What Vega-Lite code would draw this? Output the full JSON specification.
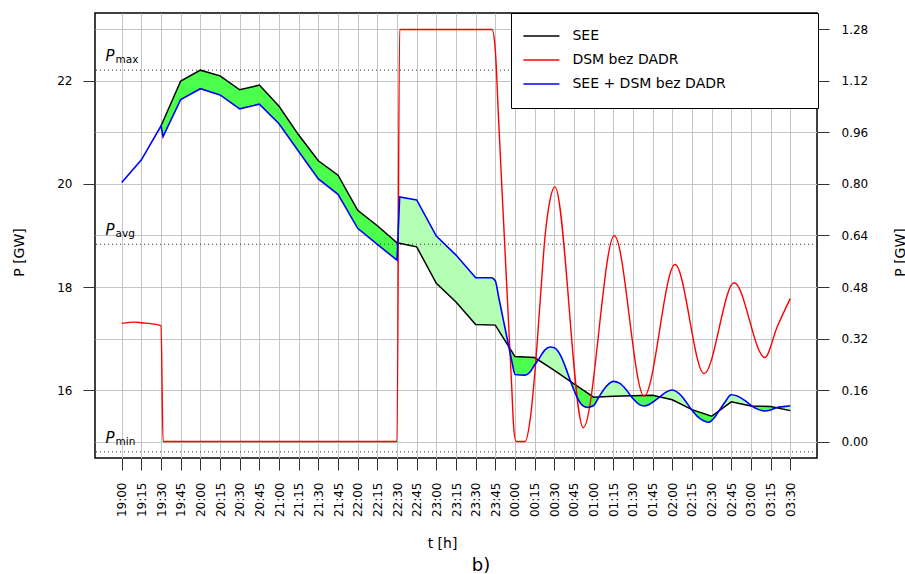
{
  "$schema": "https://vega.github.io/schema/vega-lite/v6.json",
  "width": 722,
  "height": 445,
  "autosize": {"type": "none"},
  "padding": {"left": 95, "top": 13, "right": 88, "bottom": 116},
  "background": "white",
  "config": {
    "font": "DejaVu Sans",
    "view": {"stroke": "black", "strokeWidth": 1.5},
    "axis": {
      "labelFont": "DejaVu Sans", "titleFont": "DejaVu Sans",
      "labelFontSize": 12, "titleFontSize": 14, "titleFontWeight": "normal",
      "labelColor": "black", "titleColor": "black",
      "tickColor": "#333333", "tickSize": 12, "domain": false,
      "gridColor": "#c4c4c4", "gridWidth": 1, "labelOverlap": false
    },
    "axisX": {"labelOverlap": false, "labelSeparation": 0}
  },
  "title": {"text": "b)", "orient": "bottom", "anchor": "middle", "fontSize": 18, "fontWeight": "normal", "font": "DejaVu Sans", "color": "black", "offset": 7, "dx": 25},
  "datasets": {
    "see": [
      {"t": 30, "v": 21.13}, {"t": 45, "v": 22.00}, {"t": 60, "v": 22.21}, {"t": 75, "v": 22.10},
      {"t": 90, "v": 21.83}, {"t": 105, "v": 21.92}, {"t": 120, "v": 21.51}, {"t": 135, "v": 20.95},
      {"t": 150, "v": 20.45}, {"t": 165, "v": 20.17}, {"t": 180, "v": 19.49}, {"t": 195, "v": 19.19},
      {"t": 210, "v": 18.86}, {"t": 225, "v": 18.78}, {"t": 240, "v": 18.07}, {"t": 255, "v": 17.71},
      {"t": 270, "v": 17.27}, {"t": 285, "v": 17.26}, {"t": 300, "v": 16.65}, {"t": 315, "v": 16.63},
      {"t": 330, "v": 16.38}, {"t": 345, "v": 16.12}, {"t": 360, "v": 15.86}, {"t": 375, "v": 15.88},
      {"t": 390, "v": 15.89}, {"t": 405, "v": 15.90}, {"t": 420, "v": 15.81}, {"t": 435, "v": 15.62},
      {"t": 450, "v": 15.49}, {"t": 465, "v": 15.77}, {"t": 480, "v": 15.69}, {"t": 495, "v": 15.68},
      {"t": 510, "v": 15.60}
    ],
    "blue": [
      {"t": 0, "v": 20.03}, {"t": 15, "v": 20.47}, {"t": 30, "v": 21.13}, {"t": 31.5, "v": 20.92},
      {"t": 45, "v": 21.64}, {"t": 60, "v": 21.85}, {"t": 75, "v": 21.73}, {"t": 90, "v": 21.46},
      {"t": 105, "v": 21.55}, {"t": 120, "v": 21.17}, {"t": 135, "v": 20.63}, {"t": 150, "v": 20.10},
      {"t": 165, "v": 19.80}, {"t": 180, "v": 19.14}, {"t": 195, "v": 18.83}, {"t": 210, "v": 18.52},
      {"t": 212, "v": 19.75}, {"t": 225, "v": 19.69}, {"t": 240, "v": 18.99}, {"t": 255, "v": 18.62},
      {"t": 270, "v": 18.18}, {"t": 282.5, "v": 18.18},
      {"t": 285, "v": 18.12}, {"t": 287.5, "v": 17.81}, {"t": 290, "v": 17.50}, {"t": 292.5, "v": 17.19},
      {"t": 295.3, "v": 16.84}, {"t": 297.5, "v": 16.57}, {"t": 299, "v": 16.385}, {"t": 300, "v": 16.30},
      {"t": 307.7, "v": 16.29}, {"t": 311.5, "v": 16.35}, {"t": 315, "v": 16.49}, {"t": 317.8, "v": 16.585},
      {"t": 319.1, "v": 16.64}, {"t": 322.9, "v": 16.78}, {"t": 326.7, "v": 16.835}, {"t": 330, "v": 16.82},
      {"t": 335, "v": 16.66}, {"t": 340, "v": 16.34}, {"t": 342.5, "v": 16.163}, {"t": 345, "v": 15.995},
      {"t": 350, "v": 15.745}, {"t": 352.1, "v": 15.69}, {"t": 355, "v": 15.662}, {"t": 360, "v": 15.70},
      {"t": 364, "v": 15.865}, {"t": 370, "v": 16.08}, {"t": 375, "v": 16.167}, {"t": 380, "v": 16.13},
      {"t": 385, "v": 16.0}, {"t": 388.3, "v": 15.889}, {"t": 390, "v": 15.834}, {"t": 395, "v": 15.717},
      {"t": 398.5, "v": 15.69}, {"t": 402, "v": 15.713}, {"t": 405, "v": 15.763}, {"t": 410.5, "v": 15.867},
      {"t": 415, "v": 15.955}, {"t": 420, "v": 16.0}, {"t": 425, "v": 15.933}, {"t": 430, "v": 15.788},
      {"t": 434.5, "v": 15.626}, {"t": 440, "v": 15.468}, {"t": 444.3, "v": 15.40}, {"t": 448, "v": 15.375},
      {"t": 452.5, "v": 15.478}, {"t": 455.6, "v": 15.595}, {"t": 460, "v": 15.757}, {"t": 465, "v": 15.907},
      {"t": 470, "v": 15.878}, {"t": 475, "v": 15.802}, {"t": 480.6, "v": 15.69}, {"t": 485, "v": 15.629},
      {"t": 490.6, "v": 15.594}, {"t": 495, "v": 15.612}, {"t": 499.4, "v": 15.657}, {"t": 505, "v": 15.677},
      {"t": 510, "v": 15.694}
    ],
    "dsm": [
      {"t": 0, "r": 0.367}, {"t": 10, "r": 0.371}, {"t": 15, "r": 0.369}, {"t": 30, "r": 0.36},
      {"t": 31.5, "r": 0}, {"t": 210, "r": 0}, {"t": 212, "r": 1.28}, {"t": 282.5, "r": 1.28},
      {"t": 285, "r": 1.215}, {"t": 287.5, "r": 1.0}, {"t": 290, "r": 0.79}, {"t": 292.5, "r": 0.584},
      {"t": 295, "r": 0.377}, {"t": 297.5, "r": 0.17}, {"t": 299, "r": 0.045}, {"t": 300.8, "r": 0},
      {"t": 307.7, "r": 0}, {"t": 311.5, "r": 0.066}, {"t": 315.3, "r": 0.22}, {"t": 319.1, "r": 0.43},
      {"t": 322.9, "r": 0.636}, {"t": 326.7, "r": 0.75}, {"t": 330.5, "r": 0.791}, {"t": 352.1, "r": 0.043},
      {"t": 375.8, "r": 0.639}, {"t": 398.5, "r": 0.141}, {"t": 422.1, "r": 0.55}, {"t": 444.3, "r": 0.211},
      {"t": 467.2, "r": 0.493}, {"t": 490.6, "r": 0.261}, {"t": 500, "r": 0.356}, {"t": 510, "r": 0.444}
    ],
    "fill": [
      {"seg": 1, "kind": "lo", "t": 30, "see": 21.13, "blue": 21.13},
      {"seg": 1, "kind": "lo", "t": 31.5, "see": 21.217, "blue": 20.92},
      {"seg": 1, "kind": "lo", "t": 45, "see": 22.00, "blue": 21.64},
      {"seg": 1, "kind": "lo", "t": 60, "see": 22.21, "blue": 21.85},
      {"seg": 1, "kind": "lo", "t": 75, "see": 22.10, "blue": 21.73},
      {"seg": 1, "kind": "lo", "t": 90, "see": 21.83, "blue": 21.46},
      {"seg": 1, "kind": "lo", "t": 105, "see": 21.92, "blue": 21.55},
      {"seg": 1, "kind": "lo", "t": 120, "see": 21.51, "blue": 21.17},
      {"seg": 1, "kind": "lo", "t": 135, "see": 20.95, "blue": 20.63},
      {"seg": 1, "kind": "lo", "t": 150, "see": 20.45, "blue": 20.10},
      {"seg": 1, "kind": "lo", "t": 165, "see": 20.17, "blue": 19.80},
      {"seg": 1, "kind": "lo", "t": 180, "see": 19.49, "blue": 19.14},
      {"seg": 1, "kind": "lo", "t": 195, "see": 19.19, "blue": 18.83},
      {"seg": 1, "kind": "lo", "t": 210, "see": 18.86, "blue": 18.52},
      {"seg": 1, "kind": "lo", "t": 210.5, "see": 18.857, "blue": 18.857},
      {"seg": 2, "kind": "hi", "t": 210.5, "see": 18.857, "blue": 18.857},
      {"seg": 2, "kind": "hi", "t": 212, "see": 18.849, "blue": 19.75},
      {"seg": 2, "kind": "hi", "t": 225, "see": 18.78, "blue": 19.69},
      {"seg": 2, "kind": "hi", "t": 240, "see": 18.07, "blue": 18.99},
      {"seg": 2, "kind": "hi", "t": 255, "see": 17.71, "blue": 18.62},
      {"seg": 2, "kind": "hi", "t": 270, "see": 17.27, "blue": 18.18},
      {"seg": 2, "kind": "hi", "t": 282.5, "see": 17.262, "blue": 18.18},
      {"seg": 2, "kind": "hi", "t": 285, "see": 17.26, "blue": 18.12},
      {"seg": 2, "kind": "hi", "t": 287.5, "see": 17.158, "blue": 17.81},
      {"seg": 2, "kind": "hi", "t": 290, "see": 17.057, "blue": 17.50},
      {"seg": 2, "kind": "hi", "t": 292.5, "see": 16.955, "blue": 17.19},
      {"seg": 2, "kind": "hi", "t": 295.3, "see": 16.841, "blue": 16.841},
      {"seg": 3, "kind": "lo", "t": 295.3, "see": 16.841, "blue": 16.841},
      {"seg": 3, "kind": "lo", "t": 297.5, "see": 16.752, "blue": 16.57},
      {"seg": 3, "kind": "lo", "t": 299, "see": 16.691, "blue": 16.385},
      {"seg": 3, "kind": "lo", "t": 300, "see": 16.65, "blue": 16.30},
      {"seg": 3, "kind": "lo", "t": 307.7, "see": 16.64, "blue": 16.29},
      {"seg": 3, "kind": "lo", "t": 311.5, "see": 16.636, "blue": 16.35},
      {"seg": 3, "kind": "lo", "t": 315, "see": 16.63, "blue": 16.49},
      {"seg": 3, "kind": "lo", "t": 317.8, "see": 16.585, "blue": 16.585},
      {"seg": 4, "kind": "hi", "t": 317.8, "see": 16.585, "blue": 16.585},
      {"seg": 4, "kind": "hi", "t": 319.1, "see": 16.562, "blue": 16.64},
      {"seg": 4, "kind": "hi", "t": 322.9, "see": 16.498, "blue": 16.78},
      {"seg": 4, "kind": "hi", "t": 326.7, "see": 16.435, "blue": 16.835},
      {"seg": 4, "kind": "hi", "t": 330, "see": 16.38, "blue": 16.82},
      {"seg": 4, "kind": "hi", "t": 335, "see": 16.293, "blue": 16.66},
      {"seg": 4, "kind": "hi", "t": 340, "see": 16.207, "blue": 16.34},
      {"seg": 4, "kind": "hi", "t": 342.5, "see": 16.163, "blue": 16.163},
      {"seg": 5, "kind": "lo", "t": 342.5, "see": 16.163, "blue": 16.163},
      {"seg": 5, "kind": "lo", "t": 345, "see": 16.12, "blue": 15.995},
      {"seg": 5, "kind": "lo", "t": 350, "see": 16.033, "blue": 15.745},
      {"seg": 5, "kind": "lo", "t": 352.1, "see": 15.997, "blue": 15.69},
      {"seg": 5, "kind": "lo", "t": 355, "see": 15.947, "blue": 15.662},
      {"seg": 5, "kind": "lo", "t": 360, "see": 15.86, "blue": 15.70},
      {"seg": 5, "kind": "lo", "t": 364, "see": 15.865, "blue": 15.865},
      {"seg": 6, "kind": "hi", "t": 364, "see": 15.865, "blue": 15.865},
      {"seg": 6, "kind": "hi", "t": 370, "see": 15.873, "blue": 16.08},
      {"seg": 6, "kind": "hi", "t": 375, "see": 15.88, "blue": 16.167},
      {"seg": 6, "kind": "hi", "t": 380, "see": 15.883, "blue": 16.13},
      {"seg": 6, "kind": "hi", "t": 385, "see": 15.886, "blue": 16.0},
      {"seg": 6, "kind": "hi", "t": 388.3, "see": 15.889, "blue": 15.889},
      {"seg": 7, "kind": "lo", "t": 388.3, "see": 15.889, "blue": 15.889},
      {"seg": 7, "kind": "lo", "t": 390, "see": 15.89, "blue": 15.834},
      {"seg": 7, "kind": "lo", "t": 395, "see": 15.893, "blue": 15.717},
      {"seg": 7, "kind": "lo", "t": 398.5, "see": 15.896, "blue": 15.69},
      {"seg": 7, "kind": "lo", "t": 402, "see": 15.898, "blue": 15.713},
      {"seg": 7, "kind": "lo", "t": 405, "see": 15.90, "blue": 15.763},
      {"seg": 7, "kind": "lo", "t": 410.5, "see": 15.867, "blue": 15.867},
      {"seg": 8, "kind": "hi", "t": 410.5, "see": 15.867, "blue": 15.867},
      {"seg": 8, "kind": "hi", "t": 415, "see": 15.84, "blue": 15.955},
      {"seg": 8, "kind": "hi", "t": 420, "see": 15.81, "blue": 16.0},
      {"seg": 8, "kind": "hi", "t": 425, "see": 15.747, "blue": 15.933},
      {"seg": 8, "kind": "hi", "t": 430, "see": 15.683, "blue": 15.788},
      {"seg": 8, "kind": "hi", "t": 434.5, "see": 15.626, "blue": 15.626},
      {"seg": 9, "kind": "lo", "t": 434.5, "see": 15.626, "blue": 15.626},
      {"seg": 9, "kind": "lo", "t": 440, "see": 15.577, "blue": 15.468},
      {"seg": 9, "kind": "lo", "t": 444.3, "see": 15.539, "blue": 15.40},
      {"seg": 9, "kind": "lo", "t": 448, "see": 15.507, "blue": 15.375},
      {"seg": 9, "kind": "lo", "t": 450, "see": 15.49, "blue": 15.392},
      {"seg": 9, "kind": "lo", "t": 452.5, "see": 15.537, "blue": 15.478},
      {"seg": 9, "kind": "lo", "t": 455.6, "see": 15.595, "blue": 15.595},
      {"seg": 10, "kind": "hi", "t": 455.6, "see": 15.595, "blue": 15.595},
      {"seg": 10, "kind": "hi", "t": 460, "see": 15.677, "blue": 15.757},
      {"seg": 10, "kind": "hi", "t": 465, "see": 15.77, "blue": 15.907},
      {"seg": 10, "kind": "hi", "t": 470, "see": 15.743, "blue": 15.878},
      {"seg": 10, "kind": "hi", "t": 475, "see": 15.717, "blue": 15.802},
      {"seg": 10, "kind": "hi", "t": 480, "see": 15.69, "blue": 15.70},
      {"seg": 10, "kind": "hi", "t": 480.6, "see": 15.69, "blue": 15.69},
      {"seg": 11, "kind": "lo", "t": 480.6, "see": 15.69, "blue": 15.69},
      {"seg": 11, "kind": "lo", "t": 485, "see": 15.687, "blue": 15.629},
      {"seg": 11, "kind": "lo", "t": 490.6, "see": 15.683, "blue": 15.594},
      {"seg": 11, "kind": "lo", "t": 495, "see": 15.68, "blue": 15.612},
      {"seg": 11, "kind": "lo", "t": 499.4, "see": 15.657, "blue": 15.657},
      {"seg": 12, "kind": "hi", "t": 499.4, "see": 15.657, "blue": 15.657},
      {"seg": 12, "kind": "hi", "t": 505, "see": 15.627, "blue": 15.677},
      {"seg": 12, "kind": "hi", "t": 510, "see": 15.60, "blue": 15.694}
    ],
    "ref": [
      {"name": "max", "v": 22.21},
      {"name": "avg", "v": 18.83},
      {"name": "min", "v": 14.80}
    ]
  },
  "layer": [
    {
      "layer": [
        {
          "data": {"name": "fill"},
          "transform": [{"filter": "datum.t <= 282.5"}],
          "mark": {"type": "area", "interpolate": "linear", "opacity": 1},
          "encoding": {
            "x": {"field": "t", "type": "quantitative", "scale": {"domain": [-20.4, 530.4], "nice": false, "zero": false},
              "axis": {"values": [0,15,30,45,60,75,90,105,120,135,150,165,180,195,210,225,240,255,270,285,300,315,330,345,360,375,390,405,420,435,450,465,480,495,510], "labelExpr": "timeFormat(datetime(2020, 0, 1, 19, datum.value), '%H:%M')", "labelAngle": 270, "labelPadding": 12, "tickSize": 12, "grid": true, "labelOverlap": false, "labelBound": false, "labelFlush": false, "labelSeparation": 0, "title": "t [h]", "titleX": 347, "titleY": 89, "titleBaseline": "alphabetic", "titleAlign": "center"}},
            "y": {"field": "see", "type": "quantitative", "scale": {"domain": [14.68, 23.32], "nice": false, "zero": false},
              "axis": {
                "orient": "left", "values": [16, 18, 20, 22], "grid": false, "labelPadding": 11, "tickSize": 12,
                "title": "P [GW]", "titleAngle": 270, "titleX": -71.5, "titleY": 239, "titleBaseline": "alphabetic", "titleAlign": "center"
              }},
            "y2": {"field": "blue"},
            "detail": {"field": "seg"},
            "fill": {"field": "kind", "type": "nominal", "scale": {"domain": ["lo", "hi"], "range": ["#4dff4d", "#b3ffb3"]}, "legend": null}
          }
        },
        {
          "data": {"name": "fill"},
          "transform": [{"filter": "datum.t >= 282.5"}],
          "mark": {"type": "area", "interpolate": "monotone", "opacity": 1},
          "encoding": {
            "x": {"field": "t", "type": "quantitative", "scale": {"domain": [-20.4, 530.4], "nice": false, "zero": false},
              "axis": {"values": [0,15,30,45,60,75,90,105,120,135,150,165,180,195,210,225,240,255,270,285,300,315,330,345,360,375,390,405,420,435,450,465,480,495,510], "labelExpr": "timeFormat(datetime(2020, 0, 1, 19, datum.value), '%H:%M')", "labelAngle": 270, "labelPadding": 12, "tickSize": 12, "grid": true, "labelOverlap": false, "labelBound": false, "labelFlush": false, "labelSeparation": 0, "title": "t [h]", "titleX": 347, "titleY": 89, "titleBaseline": "alphabetic", "titleAlign": "center"}},
            "y": {"field": "see", "type": "quantitative", "scale": {"domain": [14.68, 23.32], "nice": false, "zero": false}},
            "y2": {"field": "blue"},
            "detail": {"field": "seg"},
            "fill": {"field": "kind", "type": "nominal", "scale": {"domain": ["lo", "hi"], "range": ["#4dff4d", "#b3ffb3"]}, "legend": null}
          }
        },
        {
          "data": {"name": "ref"},
          "mark": {"type": "rule", "color": "#333333", "strokeWidth": 1, "strokeDash": [1, 3]},
          "encoding": {
            "y": {"field": "v", "type": "quantitative", "scale": {"domain": [14.68, 23.32], "nice": false, "zero": false}}
          }
        },
        {
          "data": {"name": "ref"},
          "mark": {"type": "text", "text": "P", "fontStyle": "italic", "fontSize": 15, "align": "left", "baseline": "alphabetic", "dy": -9, "color": "black", "font": "DejaVu Sans"},
          "encoding": {
            "x": {"datum": -12.4, "type": "quantitative", "scale": {"domain": [-20.4, 530.4], "nice": false, "zero": false},
              "axis": {"values": [0,15,30,45,60,75,90,105,120,135,150,165,180,195,210,225,240,255,270,285,300,315,330,345,360,375,390,405,420,435,450,465,480,495,510], "labelExpr": "timeFormat(datetime(2020, 0, 1, 19, datum.value), '%H:%M')", "labelAngle": 270, "labelPadding": 12, "tickSize": 12, "grid": true, "labelOverlap": false, "labelBound": false, "labelFlush": false, "labelSeparation": 0, "title": "t [h]", "titleX": 347, "titleY": 89, "titleBaseline": "alphabetic", "titleAlign": "center"}},
            "y": {"field": "v", "type": "quantitative", "scale": {"domain": [14.68, 23.32], "nice": false, "zero": false}}
          }
        },
        {
          "data": {"name": "ref"},
          "mark": {"type": "text", "fontSize": 10.5, "align": "left", "baseline": "alphabetic", "dy": -7, "color": "black", "font": "DejaVu Sans"},
          "encoding": {
            "x": {"datum": -4.7, "type": "quantitative", "scale": {"domain": [-20.4, 530.4], "nice": false, "zero": false},
              "axis": {"values": [0,15,30,45,60,75,90,105,120,135,150,165,180,195,210,225,240,255,270,285,300,315,330,345,360,375,390,405,420,435,450,465,480,495,510], "labelExpr": "timeFormat(datetime(2020, 0, 1, 19, datum.value), '%H:%M')", "labelAngle": 270, "labelPadding": 12, "tickSize": 12, "grid": true, "labelOverlap": false, "labelBound": false, "labelFlush": false, "labelSeparation": 0, "title": "t [h]", "titleX": 347, "titleY": 89, "titleBaseline": "alphabetic", "titleAlign": "center"}},
            "y": {"field": "v", "type": "quantitative", "scale": {"domain": [14.68, 23.32], "nice": false, "zero": false}},
            "text": {"field": "name"}
          }
        },
        {
          "data": {"name": "see"},
          "mark": {"type": "line", "interpolate": "linear", "strokeWidth": 1.5},
          "encoding": {
            "x": {"field": "t", "type": "quantitative", "scale": {"domain": [-20.4, 530.4], "nice": false, "zero": false},
              "axis": {"values": [0,15,30,45,60,75,90,105,120,135,150,165,180,195,210,225,240,255,270,285,300,315,330,345,360,375,390,405,420,435,450,465,480,495,510], "labelExpr": "timeFormat(datetime(2020, 0, 1, 19, datum.value), '%H:%M')", "labelAngle": 270, "labelPadding": 12, "tickSize": 12, "grid": true, "labelOverlap": false, "labelBound": false, "labelFlush": false, "labelSeparation": 0, "title": "t [h]", "titleX": 347, "titleY": 89, "titleBaseline": "alphabetic", "titleAlign": "center"}},
            "y": {"field": "v", "type": "quantitative", "scale": {"domain": [14.68, 23.32], "nice": false, "zero": false}},
            "color": {"datum": "SEE", "type": "nominal",
              "scale": {"domain": ["SEE", "DSM bez DADR", "SEE + DSM bez DADR"], "range": ["black", "#ff0000", "#0000ff"]},
              "legend": {
                "orient": "none", "legendX": 416, "legendY": 0, "title": null, "padding": 11.4,
                "strokeColor": "black", "fillColor": "white",
                "symbolType": "stroke", "symbolSize": 1296, "symbolStrokeWidth": 1.5,
                "labelFontSize": 14, "labelFont": "DejaVu Sans", "labelColor": "black", "labelOffset": 12,
                "clipHeight": 23.3, "rowPadding": 0, "labelLimit": 400,
                "labelExpr": "datum.label + '\u00a0\u00a0\u00a0\u00a0\u00a0\u00a0\u00a0\u00a0\u00a0\u00a0\u00a0\u00a0\u00a0\u00a0\u00a0\u00a0\u00a0\u00a0\u200b'"
              }}
          }
        }
      ]
    },
    {
      "data": {"name": "dsm"},
      "mark": {"type": "line", "interpolate": "monotone", "strokeWidth": 1.4},
      "encoding": {
        "x": {"field": "t", "type": "quantitative", "scale": {"domain": [-20.4, 530.4], "nice": false, "zero": false},
          "axis": {"values": [0,15,30,45,60,75,90,105,120,135,150,165,180,195,210,225,240,255,270,285,300,315,330,345,360,375,390,405,420,435,450,465,480,495,510], "labelExpr": "timeFormat(datetime(2020, 0, 1, 19, datum.value), '%H:%M')", "labelAngle": 270, "labelPadding": 12, "tickSize": 12, "grid": true, "labelOverlap": false, "labelBound": false, "labelFlush": false, "labelSeparation": 0, "title": "t [h]", "titleX": 347, "titleY": 89, "titleBaseline": "alphabetic", "titleAlign": "center"}},
        "y": {"field": "r", "type": "quantitative", "scale": {"domain": [-0.0512, 1.3312], "nice": false, "zero": false},
          "axis": {
            "orient": "right", "values": [0, 0.16, 0.32, 0.48, 0.64, 0.8, 0.96, 1.12, 1.28], "format": ".2f",
            "grid": true, "labelPadding": 12, "tickSize": 12,
            "title": "P [GW]", "titleAngle": 270, "titleX": 87.6, "titleY": 239, "titleBaseline": "alphabetic", "titleAlign": "center"
          }},
        "color": {"datum": "DSM bez DADR", "type": "nominal",
          "scale": {"domain": ["SEE", "DSM bez DADR", "SEE + DSM bez DADR"], "range": ["black", "#ff0000", "#0000ff"]}}
      }
    },
    {
      "layer": [
        {
          "data": {"name": "blue"},
          "transform": [{"filter": "datum.t <= 282.5"}],
          "mark": {"type": "line", "interpolate": "linear", "strokeWidth": 1.6},
          "encoding": {
            "x": {"field": "t", "type": "quantitative", "scale": {"domain": [-20.4, 530.4], "nice": false, "zero": false},
              "axis": {"values": [0,15,30,45,60,75,90,105,120,135,150,165,180,195,210,225,240,255,270,285,300,315,330,345,360,375,390,405,420,435,450,465,480,495,510], "labelExpr": "timeFormat(datetime(2020, 0, 1, 19, datum.value), '%H:%M')", "labelAngle": 270, "labelPadding": 12, "tickSize": 12, "grid": true, "labelOverlap": false, "labelBound": false, "labelFlush": false, "labelSeparation": 0, "title": "t [h]", "titleX": 347, "titleY": 89, "titleBaseline": "alphabetic", "titleAlign": "center"}},
            "y": {"field": "v", "type": "quantitative", "scale": {"domain": [14.68, 23.32], "nice": false, "zero": false}, "axis": null},
            "color": {"datum": "SEE + DSM bez DADR", "type": "nominal",
              "scale": {"domain": ["SEE", "DSM bez DADR", "SEE + DSM bez DADR"], "range": ["black", "#ff0000", "#0000ff"]}}
          }
        },
        {
          "data": {"name": "blue"},
          "transform": [{"filter": "datum.t >= 282.5"}],
          "mark": {"type": "line", "interpolate": "monotone", "strokeWidth": 1.6},
          "encoding": {
            "x": {"field": "t", "type": "quantitative", "scale": {"domain": [-20.4, 530.4], "nice": false, "zero": false},
              "axis": {"values": [0,15,30,45,60,75,90,105,120,135,150,165,180,195,210,225,240,255,270,285,300,315,330,345,360,375,390,405,420,435,450,465,480,495,510], "labelExpr": "timeFormat(datetime(2020, 0, 1, 19, datum.value), '%H:%M')", "labelAngle": 270, "labelPadding": 12, "tickSize": 12, "grid": true, "labelOverlap": false, "labelBound": false, "labelFlush": false, "labelSeparation": 0, "title": "t [h]", "titleX": 347, "titleY": 89, "titleBaseline": "alphabetic", "titleAlign": "center"}},
            "y": {"field": "v", "type": "quantitative", "scale": {"domain": [14.68, 23.32], "nice": false, "zero": false}, "axis": null},
            "color": {"datum": "SEE + DSM bez DADR", "type": "nominal",
              "scale": {"domain": ["SEE", "DSM bez DADR", "SEE + DSM bez DADR"], "range": ["black", "#ff0000", "#0000ff"]}}
          }
        }
      ]
    }
  ],
  "resolve": {"scale": {"y": "independent"}}
}
